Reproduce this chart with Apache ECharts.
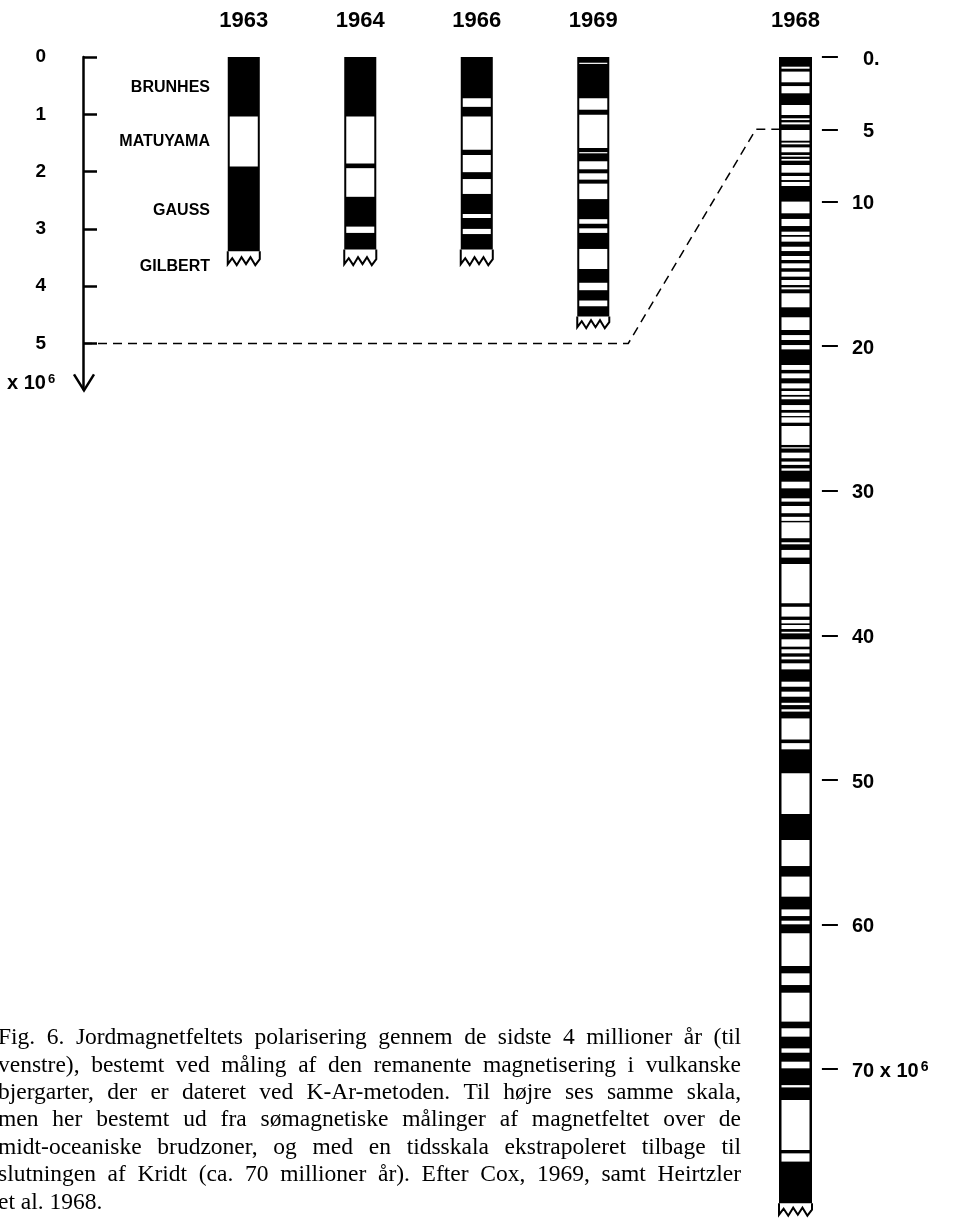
<!DOCTYPE html>
<html>
<head>
<meta charset="utf-8">
<script src="https://cdn.jsdelivr.net/npm/echarts@6/dist/echarts.min.js"></script>
<style>
html,body{margin:0;padding:0;background:#fff;}
#chart{width:955px;height:1219px;}
</style>
</head>
<body>
<div id="chart"></div>
<script>
// ---------- DATA ----------
const columnYears = ['1963', '1964', '1966', '1969'];
const rightYear = '1968';
// reversed (white) intervals, million years
const rev1963 = [[1.04, 1.91]];
const rev1964 = [[1.04, 1.86], [1.94, 2.44], [2.96, 3.07]];
const rev1966 = [[0.72, 0.87], [1.04, 1.62], [1.71, 2.01], [2.13, 2.39], [2.74, 2.81], [3.00, 3.09]];
const rev1969 = [[0.10, 0.12], [0.72, 0.92], [1.01, 1.59], [1.66, 1.68], [1.82, 1.96], [2.03, 2.14],
  [2.21, 2.48], [2.83, 2.91], [2.99, 3.07], [3.35, 3.70], [3.94, 4.07], [4.25, 4.35]];
const recordEnd = [3.39, 3.36, 3.36, 4.53];
const brokenEnd = [3.65, 3.65, 3.65, 4.75];
const rev1968 = [[0.67, 0.81], [1.01, 1.75], [2.01, 2.51], [3.32, 4.01], [4.24, 4.36], [4.52, 4.66],
  [5.05, 5.79], [5.92, 6.04], [6.25, 6.59], [6.78, 6.89], [7.05, 7.17], [7.47, 8.0], [8.23, 8.51],
  [8.64, 8.92], [10.0, 10.81], [11.2, 11.69], [12.08, 12.31], [12.43, 12.77], [13.12, 13.42],
  [13.76, 14.04], [14.27, 14.61], [14.85, 15.19], [15.42, 15.77], [15.93, 16.07], [16.34, 17.31],
  [18.0, 18.88], [19.23, 19.57], [19.92, 20.22], [21.3, 21.64], [21.88, 22.22], [22.57, 22.92],
  [23.1, 23.37], [23.49, 23.67], [24.07, 24.41], [24.6, 24.83], [24.92, 25.29], [25.52, 26.83],
  [26.99, 27.06], [27.36, 27.75], [27.98, 28.21], [28.45, 28.61], [29.37, 29.83], [30.52, 30.75],
  [31.05, 31.55], [31.8, 32.08], [32.18, 33.28], [33.56, 33.7], [34.09, 34.62], [35.06, 37.78],
  [38.02, 38.7], [38.93, 39.17], [39.28, 39.56], [39.75, 39.86], [40.27, 40.78], [40.96, 41.24],
  [41.47, 41.66], [41.93, 42.35], [43.2, 43.55], [43.89, 44.24], [44.66, 44.82], [45.11, 45.27],
  [45.74, 47.2], [47.45, 47.88], [49.54, 52.35], [54.15, 55.95], [56.68, 58.07], [58.95, 59.41],
  [59.73, 59.98], [60.6, 62.86], [63.37, 64.18], [64.71, 66.71], [67.17, 67.75], [68.56, 68.86],
  [69.48, 69.94], [71.1, 71.26], [72.13, 75.59], [75.82, 76.39]];
const recordEnd1968 = 79.27;
const brokenEnd1968 = 80.2;
const epochNames = ['BRUNHES', 'MATUYAMA', 'GAUSS', 'GILBERT'];
const epochAges = [0.54, 1.47, 2.68, 3.65];
const leftTicks = [0, 1, 2, 3, 4, 5];
const rightTicks = [0, 5, 10, 20, 30, 40, 50, 60, 70];
const rightTickLabels = ['0.', '5', '10', '20', '30', '40', '50', '60', '70 x 10'];
const correlationAge = 5;
const captionLines = [
  'Fig. 6. Jordmagnetfeltets polarisering gennem de sidste 4 millioner år (til',
  'venstre), bestemt ved måling af den remanente magnetisering i vulkanske',
  'bjergarter, der er dateret ved K-Ar-metoden. Til højre ses samme skala,',
  'men her bestemt ud fra sømagnetiske målinger af magnetfeltet over de',
  'midt-oceaniske brudzoner, og med en tidsskala ekstrapoleret tilbage til',
  'slutningen af Kridt (ca. 70 millioner år). Efter Cox, 1969, samt Heirtzler',
  'et al. 1968.'
];

// ---------- STYLE ----------
const SANS = 'Liberation Sans';
const LEFT_XMIN = -1.38, LEFT_XMAX = 3.3, LEFT_YMAX = 5.8;
const RIGHT_XMIN = -0.5, RIGHT_XMAX = 0.8, RIGHT_YMAX = 80.3;
const COL_W_LEFT = 0.275;   // in x-units of left grid
const COL_W_RIGHT = 1.0;    // in x-units of right grid
const zig = [[0, 2], [0.14, 8], [0.28, 1], [0.43, 9], [0.57, 2], [0.71, 9], [0.86, 1], [1, 7]];

function columnRenderer(revSets, colW, inset) {
  return function (params, api) {
    const i = params.dataIndex;
    const x = api.value(0), end = api.value(1), torn = api.value(2);
    const p0 = api.coord([x - colW / 2, 0]);
    const p1 = api.coord([x + colW / 2, end]);
    const L = p0[0], R = p1[0], T = p0[1], B = p1[1];
    const yt = api.coord([x, torn])[1];
    const ch = [{ type: 'rect', shape: { x: L, y: T, width: R - L, height: B - T }, style: { fill: '#000' } }];
    revSets[i].forEach(function (iv) {
      const ya = api.coord([x, iv[0]])[1], yb = api.coord([x, iv[1]])[1];
      ch.push({ type: 'rect', shape: { x: L + inset, y: ya, width: R - L - 2 * inset, height: Math.max(yb - ya, 1.2) }, style: { fill: '#fff' } });
    });
    const pts = zig.map(function (z) { return [L + z[0] * (R - L), yt - z[1]]; });
    ch.push({ type: 'polyline', shape: { points: [[L, B]].concat(pts).concat([[R, B]]) }, style: { stroke: '#000', lineWidth: 2, fill: null } });
    return { type: 'group', children: ch };
  };
}

const revLeft = [rev1963, rev1964, rev1966, rev1969];

const chart = echarts.init(document.getElementById('chart'));
const option = {
  backgroundColor: '#fff',
  animation: false,
  grid: [
    { left: 83, top: 57, width: (LEFT_XMAX - LEFT_XMIN) * 116.5, height: LEFT_YMAX * 57.3 },
    { left: 779, top: 57, width: (RIGHT_XMAX - RIGHT_XMIN) * 33, height: RIGHT_YMAX * 14.46 }
  ],
  xAxis: [
    { type: 'value', gridIndex: 0, min: LEFT_XMIN, max: LEFT_XMAX, position: 'top',
      axisLine: { show: false, onZero: false }, axisTick: { show: false }, splitLine: { show: false },
      axisLabel: { customValues: columnYears.map(function (_, i) { return i; }), margin: 25,
        formatter: function (v) { return columnYears[Math.round(v)]; },
        color: '#000', fontFamily: SANS, fontWeight: 'bold', fontSize: 22 } },
    { type: 'value', gridIndex: 1, min: RIGHT_XMIN, max: RIGHT_XMAX, position: 'top',
      axisLine: { show: false, onZero: false }, axisTick: { show: false }, splitLine: { show: false },
      axisLabel: { customValues: [0], margin: 25, formatter: function () { return rightYear; },
        color: '#000', fontFamily: SANS, fontWeight: 'bold', fontSize: 22 } }
  ],
  yAxis: [
    { type: 'value', gridIndex: 0, inverse: true, min: 0, max: LEFT_YMAX, position: 'left',
      axisLine: { show: true, onZero: false, lineStyle: { color: '#000', width: 2.5 } },
      axisTick: { show: true, inside: true, length: 14, customValues: leftTicks, lineStyle: { color: '#000', width: 2.5 } },
      splitLine: { show: false },
      axisLabel: { customValues: leftTicks, margin: 37, padding: [6, 0, 0, 0], color: '#000', fontFamily: SANS, fontWeight: 'bold', fontSize: 19 } },
    { type: 'value', gridIndex: 1, inverse: true, min: 0, max: RIGHT_YMAX, position: 'right',
      axisLine: { show: false, onZero: false },
      axisTick: { show: true, inside: false, length: 16, customValues: rightTicks, lineStyle: { color: '#000', width: 2 } },
      splitLine: { show: false },
      axisLabel: { customValues: rightTicks, margin: 30, padding: [4, 0, 0, 0], color: '#000', fontFamily: SANS, fontWeight: 'bold', fontSize: 20, lineHeight: 22,
        formatter: function (v) {
          const i = rightTicks.indexOf(v);
          const s = rightTickLabels[i];
          if (i === rightTicks.length - 1) return s + '{sup|6}';
          if (String(v).length === 1) return '{p|' + s + '}';
          return s;
        },
        rich: {
          p: { padding: [0, 0, 0, 11], fontFamily: SANS, fontWeight: 'bold', fontSize: 20, color: '#000' },
          sup: { fontSize: 14, fontFamily: SANS, fontWeight: 'bold', color: '#000', verticalAlign: 'top', padding: [0, 0, 0, 2] }
        } } }
  ],
  series: [
    { type: 'custom', xAxisIndex: 0, yAxisIndex: 0, clip: false,
      renderItem: columnRenderer(revLeft, COL_W_LEFT, 2),
      data: columnYears.map(function (_, i) { return [i, recordEnd[i], brokenEnd[i]]; }) },
    { type: 'custom', xAxisIndex: 1, yAxisIndex: 1, clip: false,
      renderItem: columnRenderer([rev1968], COL_W_RIGHT, 2.5),
      data: [[0, recordEnd1968, brokenEnd1968]] },
    { type: 'custom', xAxisIndex: 0, yAxisIndex: 0, clip: false,
      renderItem: function (params, api) {
        const p = api.coord([-0.29, api.value(1)]);
        return { type: 'text', x: p[0], y: p[1],
          style: { text: epochNames[params.dataIndex], align: 'right', verticalAlign: 'middle',
            font: 'bold 16px "Liberation Sans"', fill: '#000' } };
      },
      data: epochAges.map(function (a, i) { return [i, a]; }) }
  ]
};
chart.setOption(option);

// correlation line, axis arrow, unit label, caption
const pA = chart.convertToPixel({ xAxisIndex: 0, yAxisIndex: 0 }, [LEFT_XMIN, correlationAge]);
const pB = chart.convertToPixel({ xAxisIndex: 0, yAxisIndex: 0 }, [LEFT_XMAX, correlationAge]);
const pC = chart.convertToPixel({ xAxisIndex: 1, yAxisIndex: 1 }, [-1.2, correlationAge]);
const pD = chart.convertToPixel({ xAxisIndex: 1, yAxisIndex: 1 }, [RIGHT_XMIN, correlationAge]);
const pEnd = chart.convertToPixel({ xAxisIndex: 0, yAxisIndex: 0 }, [LEFT_XMIN, LEFT_YMAX]);

const graphics = [
  { type: 'polyline', shape: { points: [pA, pB, pC, pD] }, style: { stroke: '#000', lineWidth: 1.5, lineDash: [9, 6], fill: null } },
  { type: 'polyline', shape: { points: [[pEnd[0] - 9, pEnd[1] - 15], [pEnd[0] + 1, pEnd[1] + 1], [pEnd[0] + 11, pEnd[1] - 15]] },
    style: { stroke: '#000', lineWidth: 2.5, fill: null } },
  { type: 'text', x: 7, y: pEnd[1] - 6,
    style: { text: 'x 10{sup|6}', font: 'bold 20px "Liberation Sans"', fill: '#000', verticalAlign: 'middle',
      rich: { sup: { fontSize: 13, fontWeight: 'bold', fontFamily: SANS, fill: '#000', verticalAlign: 'top', padding: [0, 0, 0, 2] } } } }
];

const capFont = '23.5px "Liberation Serif"';
const capLeft = -2, capRight = 741, capTop = 1038, capStep = 27.4;
const mctx = document.createElement('canvas').getContext('2d');
mctx.font = capFont;
captionLines.forEach(function (line, li) {
  const y = capTop + li * capStep;
  if (li === captionLines.length - 1) {
    graphics.push({ type: 'text', x: capLeft, y: y, style: { text: line, font: capFont, fill: '#000', verticalAlign: 'middle' } });
    return;
  }
  const words = line.split(' ');
  const widths = words.map(function (w) { return mctx.measureText(w).width; });
  const total = widths.reduce(function (s, w) { return s + w; }, 0);
  const gap = (capRight - capLeft - total) / (words.length - 1);
  let x = capLeft;
  words.forEach(function (w, wi) {
    graphics.push({ type: 'text', x: x, y: y, style: { text: w, font: capFont, fill: '#000', verticalAlign: 'middle' } });
    x += widths[wi] + gap;
  });
});
chart.setOption({ graphic: graphics });
</script>
</body>
</html>
